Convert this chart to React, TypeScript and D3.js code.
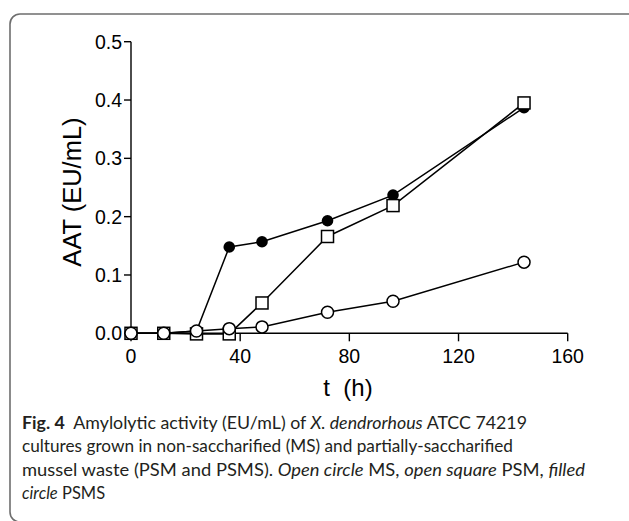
import React from "react";
import * as d3 from "d3";

const hours = [0, 12, 24, 36, 48, 72, 96, 144];
const psms = [0, 0, 0.004, 0.148, 0.157, 0.193, 0.237, 0.387]; // filled circle
const psm = [0, 0, -0.001, -0.001, 0.052, 0.166, 0.219, 0.395]; // open square
const ms = [0, 0, 0.004, 0.008, 0.011, 0.036, 0.055, 0.122]; // open circle
const xTicks = [0, 40, 80, 120, 160];
const yTicks = [0, 0.1, 0.2, 0.3, 0.4, 0.5];
const yTickLabels = ["0.0", "0.1", "0.2", "0.3", "0.4", "0.5"];

const W = 629;
const H = 521;

export default function App() {
  const x = d3.scaleLinear().domain([0, 160]).range([131, 567.7]);
  const y = d3.scaleLinear().domain([0, 0.5]).range([333.3, 41.7]);
  const line = d3
    .line<number>()
    .x((_, i) => x(hours[i]))
    .y((d) => y(d));
  const font = "'Liberation Sans', Arial, sans-serif";
  const capFont = "Lato, 'Open Sans', sans-serif";
  return (
    <svg
      width={W}
      height={H}
      style={{ position: "absolute", left: 0, top: 0, background: "#fff" }}
    >
      <rect x={10} y={14} width={660} height={508} rx={10} ry={10} fill="none" stroke="#6e6e6e" strokeWidth={1.6} />
      {/* axes */}
      <line x1={x(0)} x2={x(0)} y1={y(0.5)} y2={y(0)} stroke="#000" strokeWidth={1.4} />
      <line x1={x(0)} x2={x(160)} y1={y(0)} y2={y(0)} stroke="#000" strokeWidth={1.4} />
      {yTicks.map((t, i) => (
        <g key={"y" + i}>
          <line x1={x(0) - 7} x2={x(0)} y1={y(t)} y2={y(t)} stroke="#000" strokeWidth={1.4} />
          <text x={x(0) - 9} y={y(t) + 7} textAnchor="end" fontFamily={font} fontSize={19.5} fill="#000">
            {yTickLabels[i]}
          </text>
        </g>
      ))}
      {xTicks.map((t, i) => (
        <g key={"x" + i}>
          <line x1={x(t)} x2={x(t)} y1={y(0)} y2={y(0) + 8} stroke="#000" strokeWidth={1.4} />
          <text x={x(t)} y={363} textAnchor="middle" fontFamily={font} fontSize={19.5} fill="#000">
            {t}
          </text>
        </g>
      ))}
      <text
        transform={`translate(81,192) rotate(-90)`}
        textAnchor="middle"
        fontFamily={font}
        fontSize={25.5}
        fill="#000"
      >
        AAT (EU/mL)
      </text>
      <text x={348} y={396} textAnchor="middle" fontFamily={font} fontSize={24} fill="#000" style={{ whiteSpace: "pre" }}>
        {"t  (h)"}
      </text>
      {/* series */}
      <path d={line(psms) || ""} fill="none" stroke="#000" strokeWidth={1.5} />
      <path d={line(psm) || ""} fill="none" stroke="#000" strokeWidth={1.5} />
      <path d={line(ms) || ""} fill="none" stroke="#000" strokeWidth={1.5} />
      {psms.map((v, i) => (
        <circle key={"f" + i} cx={x(hours[i])} cy={y(v)} r={5.8} fill="#000" />
      ))}
      {psm.map((v, i) => (
        <rect key={"s" + i} x={x(hours[i]) - 6} y={y(v) - 6} width={12} height={12} fill="#fff" stroke="#000" strokeWidth={1.5} />
      ))}
      {ms.map((v, i) => (
        <circle key={"o" + i} cx={x(hours[i])} cy={y(v)} r={6} fill="#fff" stroke="#000" strokeWidth={1.5} />
      ))}
      {/* caption */}
      <g fontFamily={capFont} fontSize={16.5} fill="#231f20">
        <text x={22} y={429} textLength={505} lengthAdjust="spacingAndGlyphs" style={{ whiteSpace: "pre" }}>
          <tspan fontWeight="bold">Fig. 4</tspan>
          <tspan>{"  Amylolytic activity (EU/mL) of "}</tspan>
          <tspan fontStyle="italic">X. dendrorhous</tspan>
          <tspan> ATCC 74219</tspan>
        </text>
        <text x={22} y={452} textLength={491} lengthAdjust="spacingAndGlyphs">
          cultures grown in non-saccharified (MS) and partially-saccharified
        </text>
        <text x={22} y={475.5} textLength={563} lengthAdjust="spacingAndGlyphs" style={{ whiteSpace: "pre" }}>
          <tspan>{"mussel waste (PSM and PSMS). "}</tspan>
          <tspan fontStyle="italic">Open circle</tspan>
          <tspan>{" MS, "}</tspan>
          <tspan fontStyle="italic">open square</tspan>
          <tspan>{" PSM, "}</tspan>
          <tspan fontStyle="italic">filled</tspan>
        </text>
        <text x={22} y={499} style={{ whiteSpace: "pre" }}>
          <tspan fontStyle="italic">circle</tspan>
          <tspan>{" PSMS"}</tspan>
        </text>
      </g>
    </svg>
  );
}
